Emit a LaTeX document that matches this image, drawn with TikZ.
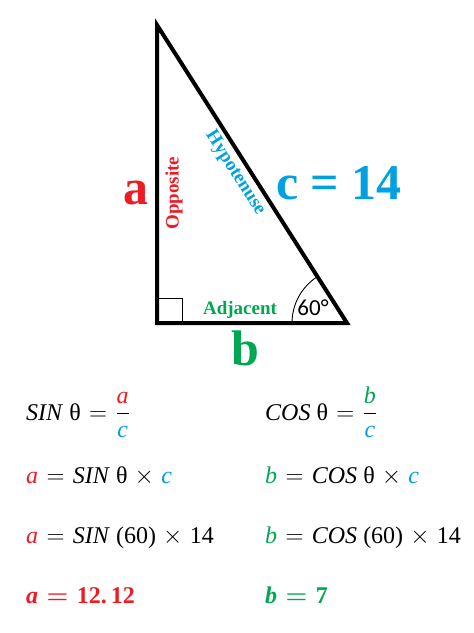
\documentclass[tikz,border=0pt]{standalone}
\usepackage{fontspec}
\usepackage{amsmath}
\setmainfont{Liberation Serif}
\newfontfamily\calfont{Carlito}
\definecolor{cred}{RGB}{237,28,36}
\definecolor{cblue}{RGB}{0,160,225}
\definecolor{cgreen}{RGB}{0,166,81}
\newcommand{\ra}{\textcolor{cred}{\textit{a}}}
\newcommand{\rb}{\textcolor{cgreen}{\textit{b}}}
\newcommand{\rc}{\textcolor{cblue}{\textit{c}}}
\newcommand{\eqs}{\hspace{0.35em}$=$\hspace{0.35em}}
\newcommand{\tms}{\hspace{0.3em}$\times$\hspace{0.3em}}
\begin{document}
\begin{tikzpicture}[x=1pt,y=-1pt,
  big/.style={font=\fontsize{50}{50}\selectfont\bfseries},
  side/.style={font=\fontsize{19}{19}\selectfont\bfseries},
  eq/.style={anchor=base west,inner sep=0pt,font=\fontsize{24}{24}\selectfont}]
\useasboundingbox (0,0) rectangle (474,633);
\coordinate (A) at (157,25);
\coordinate (C) at (157,323);
\coordinate (B) at (347,323);
\draw[line width=4pt,line join=miter] (A) -- (C) -- (B) -- cycle;
\draw[line width=1pt] (157,298) -- (182,298) -- (182,323);
\draw[line width=0.9pt] (292,323) arc[start angle=180,end angle=237.5,radius=55];
\node[font=\calfont\fontsize{23}{23}\selectfont,inner sep=0pt] (ang) at (313,308) {60°};
\node[side,text=cgreen,inner sep=0pt] (adj) at (240,310) {Adjacent};
\node[side,text=cred,rotate=90,inner sep=0pt] (opp) at (174,193) {Opposite};
\node[side,text=cblue,rotate=-57.5,inner sep=0pt] (hyp) at (235,173) {Hypotenuse};
\node[big,text=cred,inner sep=0pt] (la) at (136,193) {a};
\node[big,text=cblue,inner sep=0pt] (lc) at (339,183) {c = 14};
\node[big,text=cgreen,inner sep=0pt] (lb) at (245,348) {b};
\node[eq] (e1) at (26,420) {\textit{SIN} θ\eqs$\dfrac{\ra}{\rc}$};
\node[eq] (e2) at (265,420) {\textit{COS} θ\eqs$\dfrac{\rb}{\rc}$};
\node[eq] (e3) at (26,483) {\ra\eqs\textit{SIN} θ\tms\rc};
\node[eq] (e4) at (265,483) {\rb\eqs\textit{COS} θ\tms\rc};
\node[eq] (e5) at (26,543) {\ra\eqs\textit{SIN} (60)\tms 14};
\node[eq] (e6) at (265,543) {\rb\eqs\textit{COS} (60)\tms 14};
\node[eq,text=cred] (e7) at (26,603) {\textbf{\textit{a}}\hspace{0.35em}$\boldsymbol{=}$\hspace{0.35em}\textbf{12.\,12}};
\node[eq,text=cgreen] (e8) at (265,603) {\textbf{\textit{b}}\hspace{0.35em}$\boldsymbol{=}$\hspace{0.35em}\textbf{7}};
\end{tikzpicture}
\end{document}
